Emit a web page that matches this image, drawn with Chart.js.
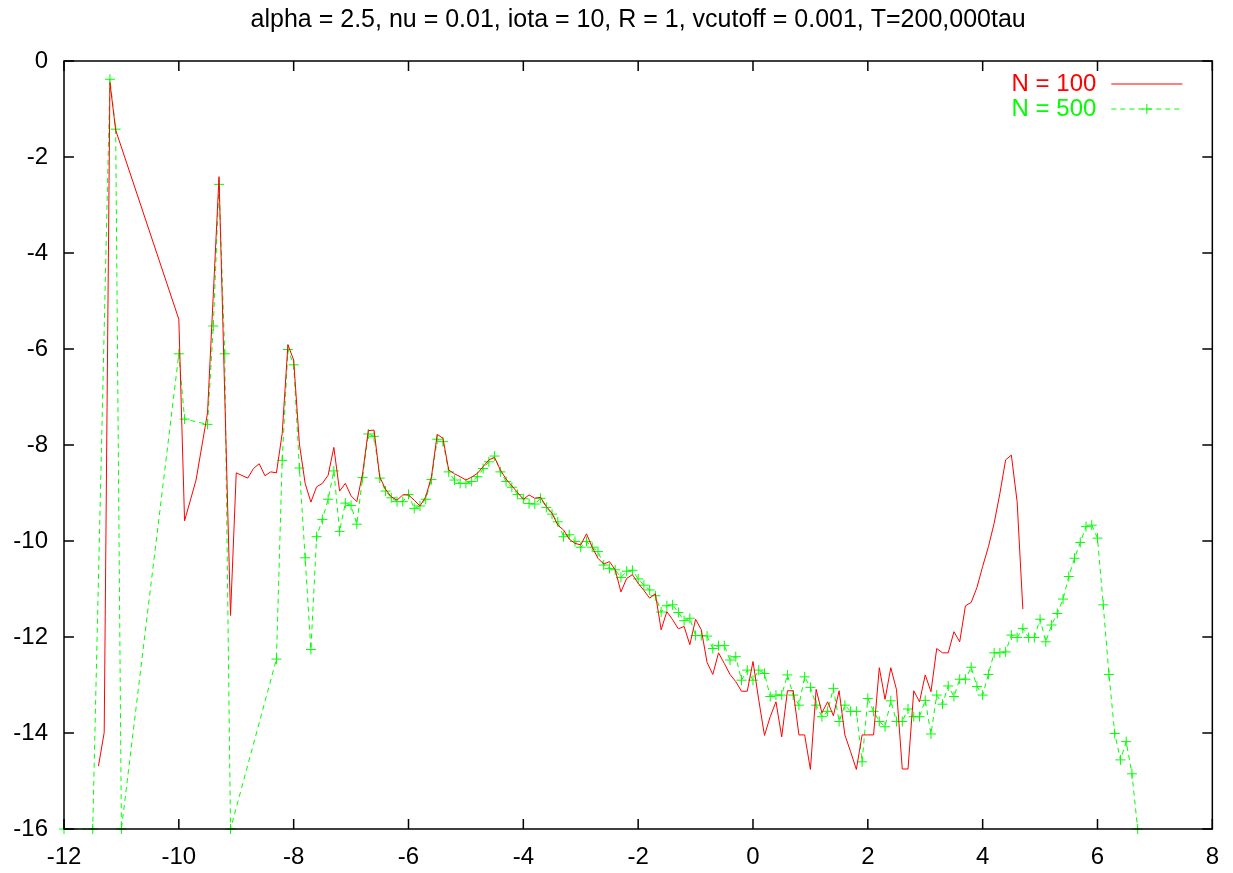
<!DOCTYPE html>
<html>
<head>
<meta charset="utf-8">
<title>N = 100 / N = 500</title>
<script src="https://cdn.jsdelivr.net/npm/chart.js@4.4.1/dist/chart.umd.min.js"></script>
<style>
  html, body { margin: 0; padding: 0; background: #fff; }
  #wrap { width: 1233px; height: 873px; }
</style>
</head>
<body>
<div id="wrap"><canvas id="plot"></canvas></div>
<script>
const titleText = "alpha = 2.5, nu = 0.01, iota = 10, R = 1, vcutoff = 0.001, T=200,000tau";
const xTicks = [-12, -10, -8, -6, -4, -2, 0, 2, 4, 6, 8];
const yTicks = [-16, -14, -12, -10, -8, -6, -4, -2, 0];

// N = 100 run
const n100X = [
  -11.4, -11.3, -11.2, -11.1, -10.0, -9.9, -9.7, -9.5, -9.3, -9.1, -9.0,
  -8.8, -8.7, -8.6, -8.5, -8.4, -8.3, -8.2, -8.1, -8.0, -7.9, -7.8, -7.7, -7.6,
  -7.5, -7.4, -7.3, -7.2, -7.1, -7.0, -6.9, -6.8, -6.7, -6.6, -6.5, -6.4, -6.3,
  -6.2, -6.1, -6.0, -5.9, -5.8, -5.7, -5.6, -5.5, -5.4, -5.3, -5.2, -5.1, -5.0,
  -4.9, -4.8, -4.7, -4.6, -4.5, -4.4, -4.3, -4.2, -4.1, -4.0, -3.9, -3.8, -3.7,
  -3.6, -3.5, -3.4, -3.3, -3.2, -3.1, -3.0, -2.9, -2.8, -2.7, -2.6, -2.5, -2.4,
  -2.3, -2.2, -2.1, -2.0, -1.9, -1.8, -1.7, -1.6, -1.5, -1.4, -1.3, -1.2, -1.1,
  -1.0, -0.9, -0.8, -0.7, -0.6, -0.5, -0.4, -0.3, -0.2, -0.1, 0.0, 0.1, 0.2,
  0.3, 0.4, 0.5, 0.6, 0.7, 0.8, 0.9, 1.0, 1.1, 1.2, 1.3, 1.4, 1.5, 1.6, 1.7,
  1.8, 1.9, 2.0, 2.1, 2.2, 2.3, 2.4, 2.5, 2.6, 2.7, 2.8, 2.9, 3.0, 3.1, 3.2,
  3.3, 3.4, 3.5, 3.6, 3.7, 3.8, 3.9, 4.0, 4.1, 4.2, 4.3, 4.4, 4.5, 4.6, 4.7
];
const n100Y = [
  -14.69, -13.99, -0.45, -1.44, -5.38, -9.58, -8.73, -7.33, -2.41, -11.55, -8.58,
  -8.69, -8.49, -8.39, -8.64, -8.56, -8.58, -7.76, -5.91, -6.23, -7.98, -8.80, -9.19, -8.87,
  -8.80, -8.63, -8.05, -8.96, -8.80, -9.06, -9.18, -8.60, -7.70, -7.69, -8.67, -8.92, -9.08,
  -9.15, -9.04, -9.04, -9.15, -9.27, -9.08, -8.66, -7.78, -7.86, -8.52, -8.60, -8.66, -8.73,
  -8.67, -8.59, -8.45, -8.31, -8.26, -8.52, -8.71, -8.85, -8.99, -9.13, -9.04, -9.11, -9.09,
  -9.28, -9.42, -9.67, -9.77, -9.96, -10.05, -10.08, -9.85, -10.13, -10.36, -10.48, -10.43, -10.60,
  -11.06, -10.78, -10.70, -10.88, -11.03, -11.19, -11.10, -11.85, -11.47, -11.64, -11.83, -11.78, -12.16,
  -11.63, -11.85, -12.53, -12.78, -12.33, -12.55, -12.78, -12.93, -13.13, -13.13, -12.51, -13.31, -14.05,
  -13.66, -13.35, -14.08, -13.12, -13.12, -14.04, -14.04, -14.76, -13.09, -13.58, -13.35, -13.64, -13.12, -14.04, -14.39,
  -14.76, -14.04, -14.04, -14.04, -12.64, -13.30, -12.64, -13.10, -14.75, -14.75, -13.12, -13.35, -12.79, -13.14, -12.24,
  -12.33, -12.33, -11.89, -12.10, -11.35, -11.28, -10.97, -10.53, -10.12, -9.63, -9.01, -8.31, -8.21, -9.18, -11.42
];

// N = 500 run
const n500X = [
  -12.0, -11.5, -11.2, -11.1, -11.0, -10.0, -9.9, -9.5, -9.4, -9.3, -9.2, -9.1,
  -8.3, -8.2, -8.1, -8.0, -7.9, -7.8, -7.7, -7.6, -7.5, -7.4, -7.3, -7.2, -7.1,
  -7.0, -6.9, -6.8, -6.7, -6.6, -6.5, -6.4, -6.3, -6.2, -6.1, -6.0, -5.9, -5.8,
  -5.7, -5.6, -5.5, -5.4, -5.3, -5.2, -5.1, -5.0, -4.9, -4.8, -4.7, -4.6, -4.5,
  -4.4, -4.3, -4.2, -4.1, -4.0, -3.9, -3.8, -3.7, -3.6, -3.5, -3.4, -3.3, -3.2,
  -3.1, -3.0, -2.9, -2.8, -2.7, -2.6, -2.5, -2.4, -2.3, -2.2, -2.1, -2.0, -1.9,
  -1.8, -1.7, -1.6, -1.5, -1.4, -1.3, -1.2, -1.1, -1.0, -0.9, -0.8, -0.7, -0.6,
  -0.5, -0.4, -0.3, -0.2, -0.1, 0.0, 0.1, 0.2, 0.3, 0.4, 0.5, 0.6, 0.7,
  0.8, 0.9, 1.0, 1.1, 1.2, 1.3, 1.4, 1.5, 1.6, 1.7, 1.8, 1.9, 2.0,
  2.1, 2.2, 2.3, 2.4, 2.5, 2.6, 2.7, 2.8, 2.9, 3.0, 3.1, 3.2, 3.3,
  3.4, 3.5, 3.6, 3.7, 3.8, 3.9, 4.0, 4.1, 4.2, 4.3, 4.4, 4.5, 4.6,
  4.7, 4.8, 4.9, 5.0, 5.1, 5.2, 5.3, 5.4, 5.5, 5.6, 5.7, 5.8, 5.9,
  6.0, 6.1, 6.2, 6.3, 6.4, 6.5, 6.6, 6.7
];
const n500Y = [
  -16.0, -16.0, -0.38, -1.42, -16.0, -6.10, -7.46, -7.57, -5.52, -2.57, -6.10, -16.0,
  -12.46, -8.32, -6.01, -6.33, -8.48, -10.35, -12.26, -9.91, -9.55, -9.13, -8.54, -9.80, -9.21,
  -9.26, -9.65, -8.68, -7.77, -7.82, -8.69, -8.96, -9.10, -9.18, -9.18, -9.03, -9.32, -9.27,
  -9.13, -8.72, -7.88, -7.93, -8.56, -8.73, -8.80, -8.80, -8.76, -8.66, -8.49, -8.35, -8.23,
  -8.56, -8.76, -8.88, -9.03, -9.12, -9.22, -9.23, -9.11, -9.30, -9.44, -9.60, -9.91, -9.87,
  -10.01, -10.13, -10.01, -10.13, -10.22, -10.50, -10.57, -10.60, -10.76, -10.63, -10.61, -10.79, -10.92,
  -11.02, -11.14, -11.48, -11.35, -11.33, -11.49, -11.66, -11.61, -11.97, -11.97, -11.98, -12.24, -12.18,
  -12.18, -12.48, -12.41, -12.90, -12.69, -12.90, -12.69, -12.76, -13.24, -13.21, -13.21, -12.79, -13.21,
  -13.42, -12.83, -13.05, -13.42, -13.66, -13.55, -13.07, -13.76, -13.42, -13.55, -13.55, -14.60, -13.28,
  -13.55, -13.76, -13.87, -13.33, -13.76, -13.76, -13.50, -13.66, -13.66, -13.32, -14.02, -13.21, -13.40,
  -13.02, -13.24, -12.88, -12.88, -12.63, -13.03, -13.21, -12.78, -12.33, -12.33, -12.31, -11.96, -12.01,
  -11.82, -12.01, -12.01, -11.63, -12.10, -11.75, -11.51, -11.21, -10.74, -10.36, -10.03, -9.70, -9.67,
  -9.94, -11.33, -12.78, -14.01, -14.56, -14.18, -14.85, -16.0
];

const RED = "#ff0000";
const GREEN = "#00ff00";
const FONT = "'Liberation Sans', Arial, Helvetica, sans-serif";

const toPoints = (xs, ys) => xs.map((x, i) => ({ x, y: ys[i] }));

// box around the plot with inward tick marks on all four sides
const framePlugin = {
  id: "frame",
  afterDatasetsDraw(chart) {
    const { ctx, chartArea: a } = chart;
    const xs = chart.scales.x;
    const ys = chart.scales.y;
    const len = 10;
    ctx.save();
    ctx.strokeStyle = "#000";
    ctx.lineWidth = 1.5;
    ctx.strokeRect(a.left, a.top, a.right - a.left, a.bottom - a.top);
    ctx.beginPath();
    xTicks.forEach((v) => {
      const px = xs.getPixelForValue(v);
      ctx.moveTo(px, a.bottom);
      ctx.lineTo(px, a.bottom - len);
      ctx.moveTo(px, a.top);
      ctx.lineTo(px, a.top + len);
    });
    yTicks.forEach((v) => {
      const py = ys.getPixelForValue(v);
      ctx.moveTo(a.left, py);
      ctx.lineTo(a.left + len, py);
      ctx.moveTo(a.right, py);
      ctx.lineTo(a.right - len, py);
    });
    ctx.stroke();
    ctx.restore();
  },
};

// key in the top right corner: label, then line sample
const keyPlugin = {
  id: "key",
  afterDraw(chart) {
    const { ctx, chartArea: a } = chart;
    const textRight = a.right - 116;
    const x0 = a.right - 101;
    const x1 = a.right - 30;
    const rows = [
      { label: "N = 100", color: RED, dash: [], marker: false, y: a.top + 23 },
      { label: "N = 500", color: GREEN, dash: [5, 4], marker: true, y: a.top + 48 },
    ];
    ctx.save();
    ctx.font = `24px ${FONT}`;
    ctx.textAlign = "right";
    ctx.textBaseline = "middle";
    rows.forEach((r) => {
      ctx.fillStyle = r.color;
      ctx.fillText(r.label, textRight, r.y);
      ctx.strokeStyle = r.color;
      ctx.lineWidth = 1;
      ctx.setLineDash(r.dash);
      ctx.beginPath();
      ctx.moveTo(x0, r.y);
      ctx.lineTo(x1, r.y);
      ctx.stroke();
      if (r.marker) {
        const mx = (x0 + x1) / 2;
        ctx.setLineDash([]);
        ctx.beginPath();
        ctx.moveTo(mx - 5, r.y);
        ctx.lineTo(mx + 5, r.y);
        ctx.moveTo(mx, r.y - 5);
        ctx.lineTo(mx, r.y + 5);
        ctx.stroke();
      }
    });
    ctx.restore();
  },
};

Chart.defaults.font.family = FONT;
Chart.defaults.color = "#000";

new Chart(document.getElementById("plot"), {
  type: "line",
  data: {
    datasets: [
      {
        label: "N = 100",
        data: toPoints(n100X, n100Y),
        borderColor: RED,
        borderWidth: 1,
        pointRadius: 0,
        tension: 0,
        fill: false,
      },
      {
        label: "N = 500",
        data: toPoints(n500X, n500Y),
        borderColor: GREEN,
        borderWidth: 1,
        borderDash: [5, 4],
        pointStyle: "cross",
        pointRadius: 5,
        pointBorderWidth: 1,
        pointBorderColor: GREEN,
        pointBackgroundColor: GREEN,
        tension: 0,
        fill: false,
        clip: false,
      },
    ],
  },
  options: {
    responsive: true,
    maintainAspectRatio: false,
    animation: false,
    layout: {
      padding: { left: 0, right: 19, top: 0, bottom: 0 },
    },
    plugins: {
      legend: { display: false },
      tooltip: { enabled: false },
      title: {
        display: true,
        fullSize: false,
        text: titleText,
        color: "#000",
        font: { size: 25, weight: "normal" },
        padding: { top: 5, bottom: 26 },
      },
    },
    scales: {
      x: {
        type: "linear",
        min: -12,
        max: 8,
        grid: { display: false, drawTicks: false },
        border: { display: false },
        ticks: { stepSize: 2, font: { size: 24 }, color: "#000", padding: 14 },
        afterFit: (scale) => { scale.height = 44; },
      },
      y: {
        type: "linear",
        min: -16,
        max: 0,
        grid: { display: false, drawTicks: false },
        border: { display: false },
        ticks: { stepSize: 2, font: { size: 24 }, color: "#000", padding: 16 },
        afterFit: (scale) => { scale.width = 64; },
      },
    },
  },
  plugins: [framePlugin, keyPlugin],
});
</script>
</body>
</html>
